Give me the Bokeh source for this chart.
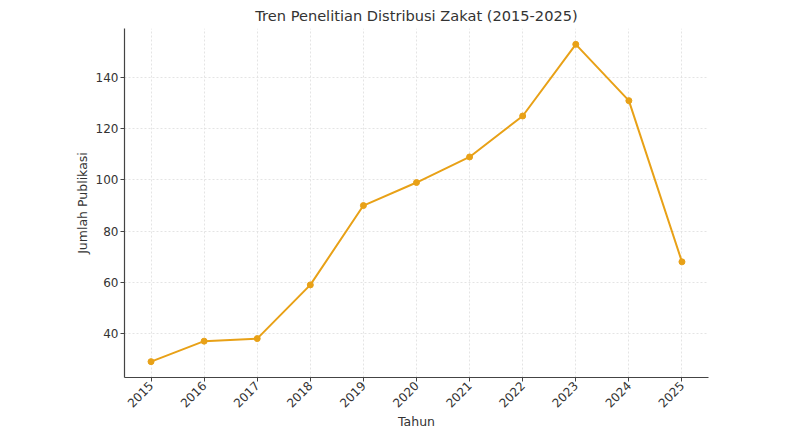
from bokeh.plotting import figure
from bokeh.models import Range1d, FixedTicker
from bokeh.embed import file_html
from bokeh.resources import INLINE
import math

years = [2015, 2016, 2017, 2018, 2019, 2020, 2021, 2022, 2023, 2024, 2025]
publications = [29, 37, 38, 59, 90, 99, 109, 125, 153, 131, 68]
y_ticks = [40, 60, 80, 100, 120, 140]

color = "#E8A117"
font = "DejaVu Sans"

p = figure(width=785, height=432, output_backend="svg", toolbar_location=None,
           title="Tren Penelitian Distribusi Zakat (2015-2025)",
           x_range=Range1d(2014.5, 2025.5), y_range=Range1d(22.8, 159.2),
           min_border_left=124, min_border_right=77, min_border_top=5, min_border_bottom=40)

p.title.align = "center"
p.title.text_font = font
p.title.text_font_size = "14.6px"
p.title.text_font_style = "normal"
p.title.text_color = "#333333"
p.title.standoff = 9

p.outline_line_color = None
p.background_fill_color = "white"
p.border_fill_color = "white"

for ax in (p.xaxis, p.yaxis):
    ax.axis_line_color = "#444444"
    ax.axis_line_width = 1.2
    ax.major_tick_line_color = "#444444"
    ax.major_tick_out = 4
    ax.major_tick_in = 0
    ax.minor_tick_line_color = None
    ax.major_label_text_font = font
    ax.major_label_text_font_size = "12px"
    ax.major_label_text_color = "#333333"
    ax.major_label_standoff = 2
    ax.axis_label_text_font = font
    ax.axis_label_text_font_size = "12.5px"
    ax.axis_label_text_font_style = "normal"
    ax.axis_label_text_color = "#333333"

p.xaxis.ticker = FixedTicker(ticks=years)
p.yaxis.ticker = FixedTicker(ticks=y_ticks)
p.xaxis.major_label_orientation = math.pi / 4
p.xaxis.axis_label = "Tahun"
p.yaxis.axis_label = "Jumlah Publikasi"
p.xaxis.axis_label_standoff = 0
p.yaxis.axis_label_standoff = 3

p.xgrid.grid_line_color = "#dddddd"
p.ygrid.grid_line_color = "#dddddd"
p.xgrid.grid_line_dash = "2 2"
p.ygrid.grid_line_dash = "2 2"
p.xgrid.grid_line_width = 0.8
p.ygrid.grid_line_width = 0.8

p.line(years, publications, line_color=color, line_width=2)
p.scatter(years, publications, size=6, fill_color=color, line_color=color)

open("out.html", "w").write(file_html(p, INLINE))
